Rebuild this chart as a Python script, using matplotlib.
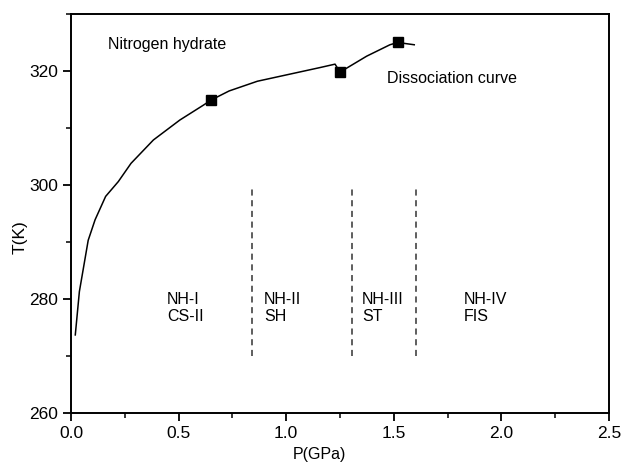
import matplotlib
matplotlib.use("Agg")
import matplotlib.pyplot as plt
from matplotlib.ticker import MultipleLocator

plt.rcParams['font.family'] = ['Liberation Sans', 'DejaVu Sans']

# Dissociation curve
P = [0.02, 0.039, 0.08, 0.112, 0.161, 0.22, 0.279, 0.383, 0.506, 0.615, 0.651,
     0.735, 0.866, 1.157, 1.227, 1.25, 1.374, 1.482, 1.518, 1.595]
T = [273.7, 281.3, 290.3, 293.9, 298.0, 300.6, 303.8, 307.9, 311.4, 314.0, 314.9,
     316.5, 318.2, 320.6, 321.2, 319.8, 322.6, 324.6, 325.0, 324.6]

# Square markers
P_mark = [0.651, 1.25, 1.518]
T_mark = [314.9, 319.8, 325.0]

# Phase boundaries
P_bound = [0.843, 1.304, 1.603]
T_bound_low, T_bound_high = 270, 299.5

# Phase labels
phase_labels = ["NH-I\nCS-II", "NH-II\nSH", "NH-III\nST", "NH-IV\nFIS"]
phase_P = [0.445, 0.896, 1.352, 1.824]
phase_T = 278.4

fig = plt.figure(figsize=(6.21, 4.66), dpi=100)
ax = fig.add_axes([0.1143, 0.1137, 0.8664, 0.8563])

ax.plot(P, T, color='black', lw=1.1)
ax.plot(P_mark, T_mark, 's', color='black', ms=6.5)

for p in P_bound:
    ax.plot([p, p], [T_bound_low, T_bound_high], color='#333333', lw=1.1,
            dashes=(4, 3))

for lab, p in zip(phase_labels, phase_P):
    ax.text(p, phase_T, lab, ha='left', va='center', fontsize=11.5, linespacing=1.15)

ax.text(0.173, 324.6, "Nitrogen hydrate", ha='left', va='center', fontsize=11.5)
ax.text(1.47, 318.6, "Dissociation curve", ha='left', va='center', fontsize=11.5)

ax.set_xlim(0, 2.5)
ax.set_ylim(260, 330)
ax.xaxis.set_major_locator(MultipleLocator(0.5))
ax.xaxis.set_minor_locator(MultipleLocator(0.25))
ax.yaxis.set_major_locator(MultipleLocator(20))
ax.yaxis.set_minor_locator(MultipleLocator(10))
ax.xaxis.set_major_formatter(plt.FuncFormatter(lambda v, _: f"{v:.1f}"))

ax.tick_params(which='major', direction='out', length=6, width=1.3, labelsize=12.5)
ax.tick_params(which='minor', direction='out', length=3.5, width=1.1)
ax.tick_params(top=False, right=False)
for s in ax.spines.values():
    s.set_linewidth(1.4)

ax.set_xlabel("P(GPa)", fontsize=11.5, labelpad=3)
ax.xaxis.set_label_coords(0.461, -0.085)
ax.set_ylabel("T(K)", fontsize=12.5)
ax.yaxis.set_label_coords(-0.08, 0.442)

fig.savefig("out.png", dpi=100)
